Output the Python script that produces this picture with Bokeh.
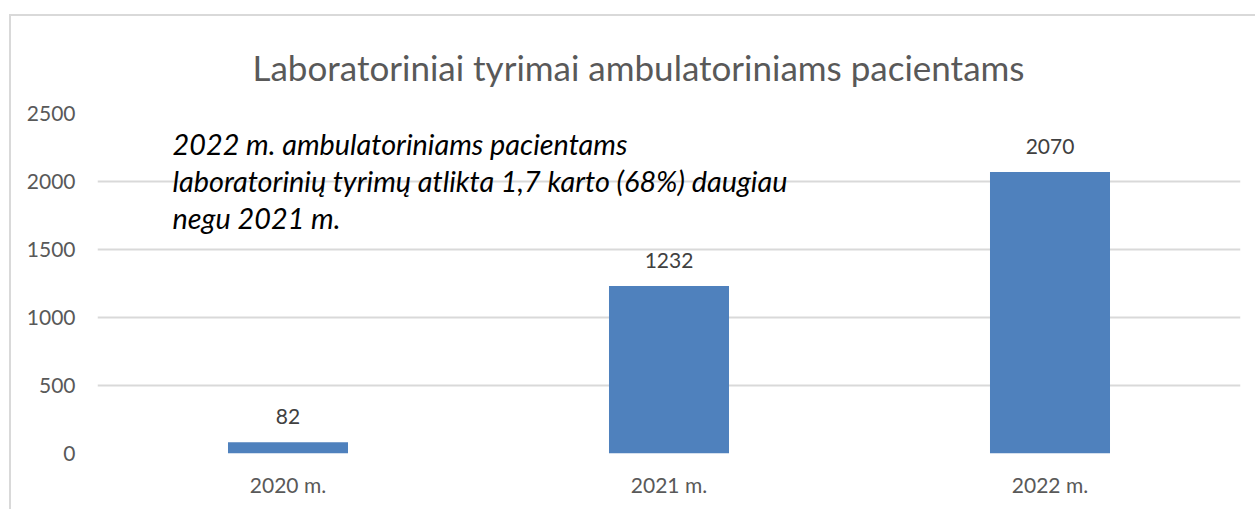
from bokeh.plotting import figure
from bokeh.models import (ColumnDataSource, LabelSet, Label, FixedTicker,
                          FactorRange, Range1d)
from bokeh.core.properties import value
from bokeh.embed import file_html
from bokeh.resources import INLINE

# ---- data ----
years = ["2020 m.", "2021 m.", "2022 m."]
values = [82, 1232, 2070]
y_ticks = [0, 500, 1000, 1500, 2000, 2500]
title_text = "Laboratoriniai tyrimai ambulatoriniams pacientams"
note_lines = [
    "2022 m. ambulatoriniams pacientams",
    "laboratorinių tyrimų atlikta 1,7 karto (68%) daugiau",
    "negu 2021 m.",
]
note_y = [2279, 2007, 1735]

FONT = "Lato"
src = ColumnDataSource(dict(x=years, top=values, label=[str(v) for v in values]))

p = figure(x_range=FactorRange(*years, range_padding=0),
           y_range=Range1d(0, 2500),
           width=1255, height=509,
           output_backend="svg", toolbar_location=None,
           min_border_left=97, min_border_right=15,
           min_border_top=113, min_border_bottom=56)
p.outline_line_color = None
p.background_fill_color = "white"
p.border_fill_color = "white"

p.title.text = title_text
p.title.align = "left"
p.title.offset = 155
p.title.text_font = FONT
p.title.text_font_style = "normal"
p.title.text_font_size = "35px"
p.title.text_color = "#595959"
p.title.standoff = 52

p.vbar(x="x", top="top", width=0.315, source=src,
       fill_color="#4f81bd", line_color=None)

labels = LabelSet(x="x", y="top", text="label", source=src,
                  text_align="center", text_baseline="alphabetic",
                  y_offset=18, text_font=value(FONT), text_font_size="21px",
                  text_color="#404040")
p.add_layout(labels)

# axes
p.yaxis.ticker = FixedTicker(ticks=y_ticks)
p.yaxis.axis_line_color = None
p.yaxis.major_tick_line_color = None
p.yaxis.minor_tick_line_color = None
p.yaxis.major_tick_out = 0
p.yaxis.minor_tick_out = 0
p.yaxis.major_label_standoff = 22
p.yaxis.major_label_text_font = FONT
p.yaxis.major_label_text_font_size = "21px"
p.yaxis.major_label_text_color = "#595959"

p.xaxis.axis_line_color = None
p.xaxis.major_tick_line_color = None
p.xaxis.major_tick_out = 0
p.xaxis.major_label_standoff = 18
p.xaxis.major_label_text_font = FONT
p.xaxis.major_label_text_font_size = "21px"
p.xaxis.major_label_text_color = "#595959"

p.xgrid.grid_line_color = None
p.ygrid.grid_line_color = "#d9d9d9"
p.ygrid.grid_line_width = 2

# note
for line, yv in zip(note_lines, note_y):
    p.add_layout(Label(x=0.197, y=yv, text=line, text_align="left",
                       text_baseline="alphabetic", text_font=FONT,
                       text_font_style="italic", text_font_size="28.8px",
                       text_color="black"))

# outer chart border (top and left edges visible)
p.stylesheets = [":host::after { content: ''; position: absolute; left: 9px; top: 14px;"
                 " right: -10px; bottom: -10px; border-left: 2px solid #d9d9d9;"
                 " border-top: 2px solid #d9d9d9; pointer-events: none; }"]

open("out.html", "w").write(file_html(p, INLINE))
